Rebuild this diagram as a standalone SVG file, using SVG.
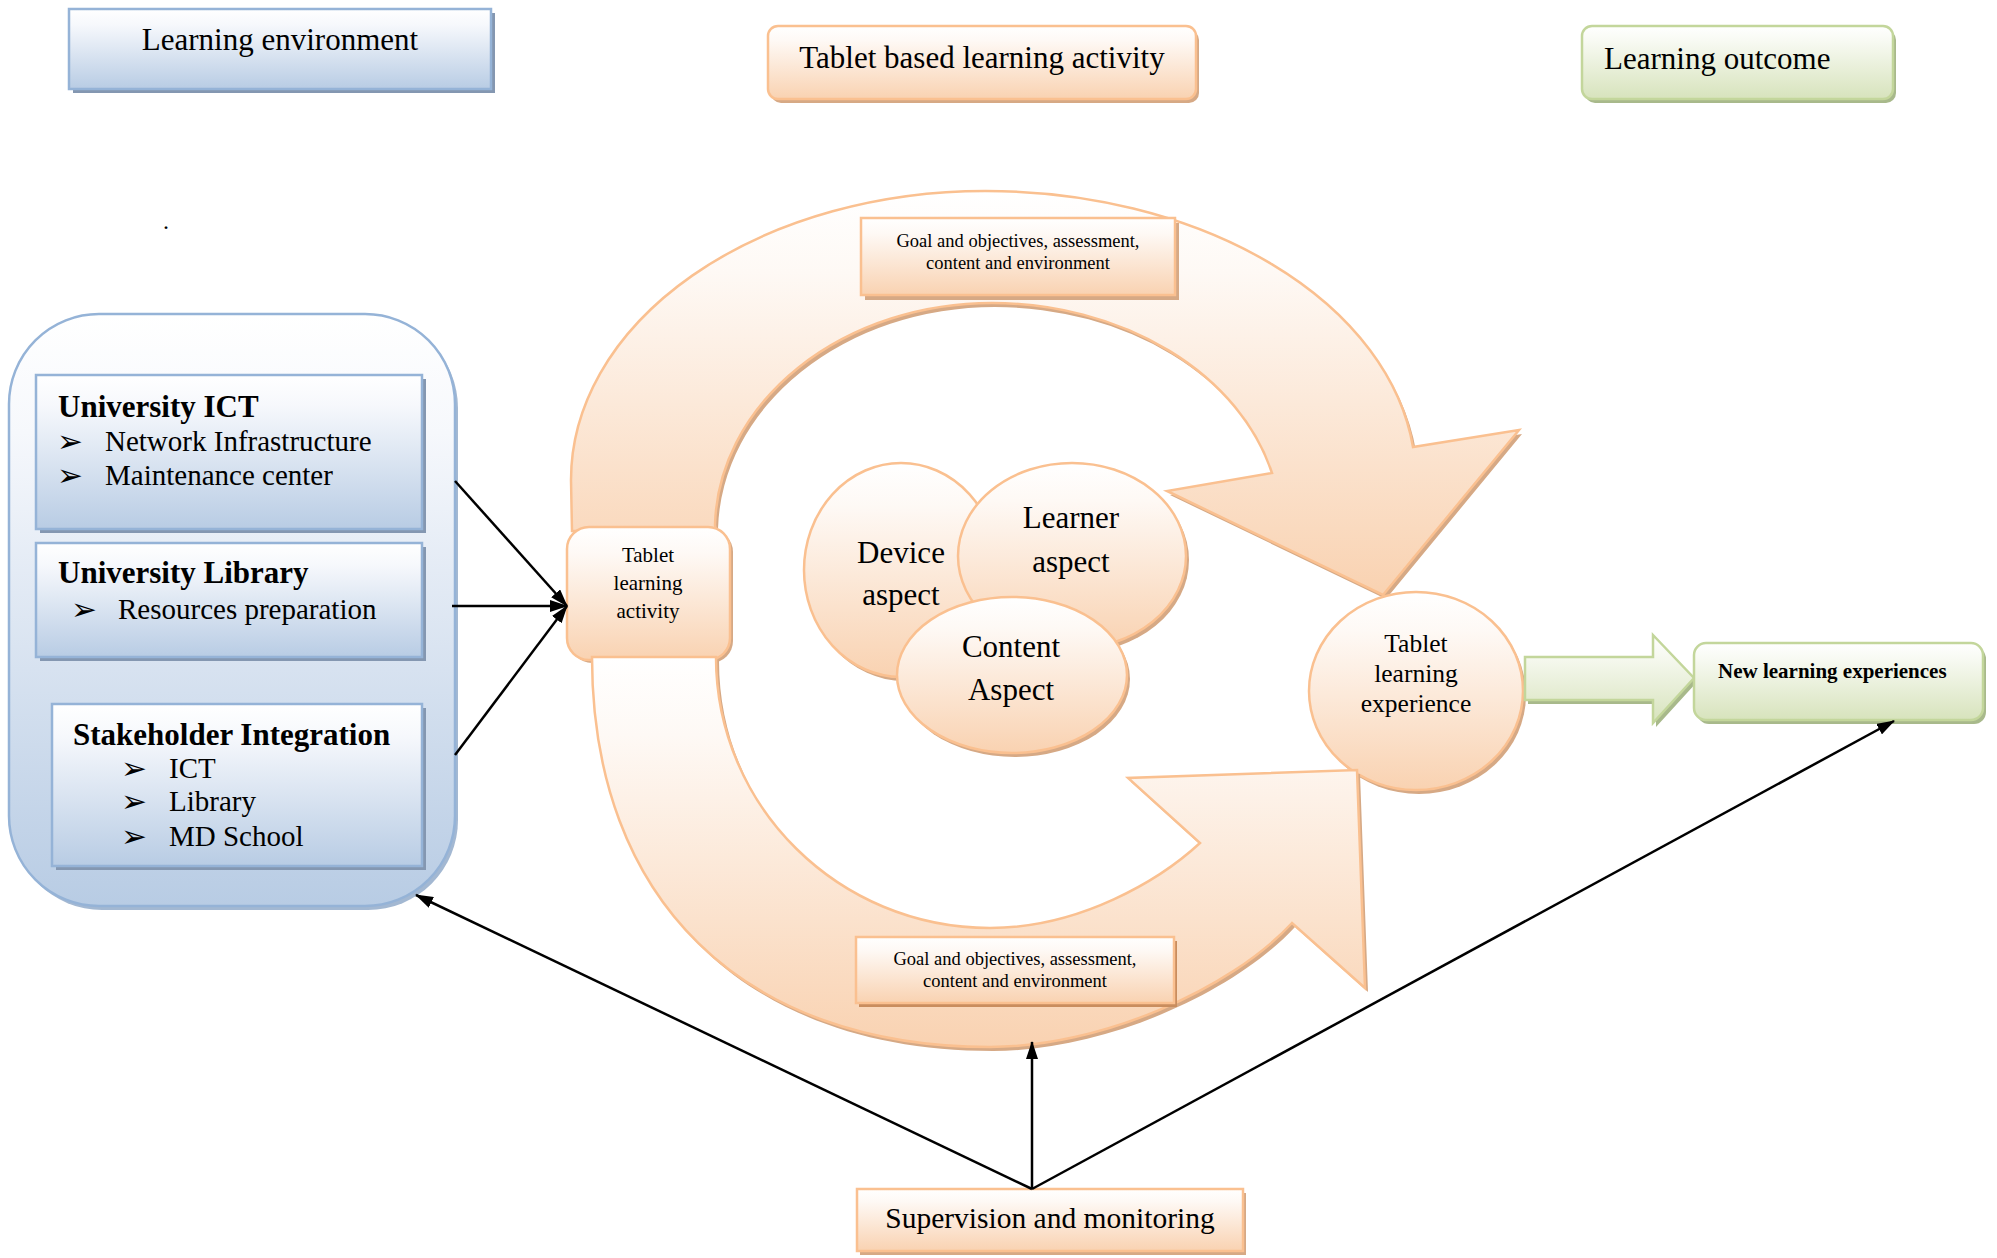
<svg xmlns="http://www.w3.org/2000/svg" width="1997" height="1258" viewBox="0 0 1997 1258">
<defs>
<linearGradient id="gO" x1="0" y1="0" x2="0" y2="1"><stop offset="0" stop-color="#FFFFFF"/><stop offset="0.2" stop-color="#FEF9F5"/><stop offset="1" stop-color="#F9D2B1"/></linearGradient>
<linearGradient id="gB" x1="0" y1="0" x2="0" y2="1"><stop offset="0" stop-color="#FFFFFF"/><stop offset="0.2" stop-color="#F6F8FC"/><stop offset="1" stop-color="#B8CCE4"/></linearGradient>
<linearGradient id="gG" x1="0" y1="0" x2="0" y2="1"><stop offset="0" stop-color="#FFFFFF"/><stop offset="0.2" stop-color="#F8FAF3"/><stop offset="1" stop-color="#D7E3BC"/></linearGradient>
<marker id="ah" viewBox="0 0 18 12" refX="17" refY="6" markerWidth="18" markerHeight="12" markerUnits="userSpaceOnUse" orient="auto"><path d="M0,0 L18,6 L0,12 Z" fill="#000"/></marker>
</defs>
<style>
text { font-family: "Liberation Serif", "Times New Roman", serif; fill: #000; }
.h { font-size: 31px; }
.b { font-weight: bold; }
.li { font-size: 29px; }
.bu { font-family: "DejaVu Sans", sans-serif; font-size: 31px; }
.c { text-anchor: middle; }
.e { font-size: 31px; }
.g { font-size: 18.5px; }
.blue { fill: url(#gB); stroke: #95B3D7; stroke-width: 2.5; }
.org { fill: url(#gO); stroke: #FAC090; stroke-width: 2.5; }
.grn { fill: url(#gG); stroke: #C3D69B; stroke-width: 2.5; }
.sb { fill: #8497B1; }
.so { fill: #D6A985; }
.sg { fill: #A8B98B; }
.conn line { stroke: #000; stroke-width: 2.5; marker-end: url(#ah); }
</style>
<rect width="1997" height="1258" fill="#FFFFFF"/>

<g id="hdr-environment">
<rect class="sb" x="73" y="13" width="422" height="80"/>
<rect class="blue" x="69" y="9" width="422" height="80"/>
<text class="h c" x="280" y="50">Learning environment</text>
</g>

<g id="hdr-activity">
<rect class="so" x="771" y="30" width="428" height="73" rx="10"/>
<rect class="org" x="768" y="26" width="428" height="73" rx="10"/>
<text class="h c" x="982" y="68">Tablet based learning activity</text>
</g>

<g id="hdr-outcome">
<rect class="sg" x="1585" y="30" width="311" height="73" rx="10"/>
<rect class="grn" x="1582" y="26" width="311" height="73" rx="10"/>
<text class="h" x="1604" y="69">Learning outcome</text>
</g>

<text x="163" y="229" font-size="24">.</text>

<g id="env-container">
<rect x="12" y="318" width="446" height="592" rx="90" fill="#A3B8D2"/>
<rect class="blue" x="9" y="314" width="446" height="592" rx="90"/>
</g>

<g id="univ-ict">
<rect class="sb" x="40" y="379" width="386" height="154"/>
<rect class="blue" x="36" y="375" width="386" height="154"/>
<text class="h b" x="58" y="417">University ICT</text>
<text class="bu" x="57" y="452">➢</text>
<text class="li" x="105" y="451">Network Infrastructure</text>
<text class="bu" x="57" y="486">➢</text>
<text class="li" x="105" y="485">Maintenance center</text>
</g>

<g id="univ-library">
<rect class="sb" x="40" y="547" width="386" height="114"/>
<rect class="blue" x="36" y="543" width="386" height="114"/>
<text class="h b" x="58" y="583">University Library</text>
<text class="bu" x="71" y="620">➢</text>
<text class="li" x="118" y="619">Resources preparation</text>
</g>

<g id="stakeholder">
<rect class="sb" x="56" y="708" width="370" height="162"/>
<rect class="blue" x="52" y="704" width="370" height="162"/>
<text class="h b" x="73" y="745">Stakeholder Integration</text>
<text class="bu" x="121" y="779">➢</text>
<text class="li" x="169" y="778">ICT</text>
<text class="bu" x="121" y="812">➢</text>
<text class="li" x="169" y="811">Library</text>
<text class="bu" x="121" y="847">➢</text>
<text class="li" x="169" y="846">MD School</text>
</g>

<g id="cycle-upper-arrow">
<path class="so" transform="translate(3,4)" d="M572 531 L571 480 A414 289 0 0 1 985 191 A430 289 0 0 1 1413 447 L1519 430 L1383 595 L1167 491 L1272 473 A290 227 0 0 0 992 303 A277 227 0 0 0 715 525 L716 531 Z"/>
<path class="org" d="M572 531 L571 480 A414 289 0 0 1 985 191 A430 289 0 0 1 1413 447 L1519 430 L1383 595 L1167 491 L1272 473 A290 227 0 0 0 992 303 A277 227 0 0 0 715 525 L716 531 Z"/>
</g>

<g id="tablet-activity">
<rect class="so" x="570" y="530" width="163" height="133" rx="22"/>
<rect class="org" x="567" y="527" width="163" height="133" rx="22"/>
<text class="c" font-size="21" x="648" y="562">Tablet</text>
<text class="c" font-size="21" x="648" y="590">learning</text>
<text class="c" font-size="21" x="648" y="618">activity</text>
</g>

<g id="tablet-experience">
<ellipse class="so" cx="1419" cy="695" rx="107" ry="99"/>
<ellipse class="org" cx="1416" cy="691" rx="107" ry="99"/>
<text class="c" font-size="25.5" x="1416" y="652">Tablet</text>
<text class="c" font-size="25.5" x="1416" y="682">learning</text>
<text class="c" font-size="25.5" x="1416" y="712">experience</text>
</g>

<g id="cycle-lower-arrow">
<path class="so" transform="translate(3,4)" d="M592 657 C592 900 743 1047 990 1047 C1100 1047 1230 990 1292 923 L1365 988 L1357 770 L1128 778 L1200 843 C1160 880 1080 928 990 928 C839 928 716 807 716 657 Z"/>
<path class="org" d="M592 657 C592 900 743 1047 990 1047 C1100 1047 1230 990 1292 923 L1365 988 L1357 770 L1128 778 L1200 843 C1160 880 1080 928 990 928 C839 928 716 807 716 657 Z"/>
</g>

<g id="goal-upper">
<rect class="so" x="865" y="223" width="314" height="77"/>
<rect class="org" x="861" y="218" width="314" height="77"/>
<text class="g c" x="1018" y="247">Goal and objectives, assessment,</text>
<text class="g c" x="1018" y="269">content and environment</text>
</g>

<g id="goal-lower">
<rect x="859" y="941" width="318" height="66" fill="#C98D5E"/>
<rect class="org" x="856" y="937" width="318" height="66"/>
<text class="g c" x="1015" y="965">Goal and objectives, assessment,</text>
<text class="g c" x="1015" y="987">content and environment</text>
</g>

<g id="device-aspect">
<ellipse class="so" cx="904" cy="574" rx="97" ry="107"/>
<ellipse class="org" cx="901" cy="570" rx="97" ry="107"/>
<text class="e c" x="901" y="563">Device</text>
<text class="e c" x="901" y="605">aspect</text>
</g>

<g id="learner-aspect">
<ellipse class="so" cx="1075" cy="560" rx="114" ry="93"/>
<ellipse class="org" cx="1072" cy="556" rx="114" ry="93"/>
<text class="e c" x="1071" y="528">Learner</text>
<text class="e c" x="1071" y="572">aspect</text>
</g>

<g id="content-aspect">
<ellipse class="so" cx="1015" cy="679" rx="115" ry="78"/>
<ellipse class="org" cx="1012" cy="675" rx="115" ry="78"/>
<text class="e c" x="1011" y="657">Content</text>
<text class="e c" x="1011" y="700">Aspect</text>
</g>

<g id="outcome-arrow">
<path class="sg" transform="translate(3,4)" d="M1525 657 L1653 657 L1653 635 L1694 678 L1653 723 L1653 700 L1525 700 Z"/>
<path class="grn" d="M1525 657 L1653 657 L1653 635 L1694 678 L1653 723 L1653 700 L1525 700 Z"/>
</g>

<g id="new-experiences">
<rect class="sg" x="1697" y="647" width="289" height="77" rx="12"/>
<rect class="grn" x="1694" y="643" width="289" height="77" rx="12"/>
<text class="b" font-size="21" x="1718" y="678">New learning experiences</text>
</g>

<g id="supervision">
<rect class="so" x="860" y="1193" width="386" height="62"/>
<rect class="org" x="857" y="1189" width="386" height="62"/>
<text class="c" font-size="29.5" x="1050" y="1228">Supervision and monitoring</text>
</g>

<g id="connectors" class="conn">
<line x1="455" y1="481" x2="567" y2="606"/>
<line x1="452" y1="606" x2="567" y2="606"/>
<line x1="455" y1="755" x2="567" y2="606"/>
<line x1="1032" y1="1189" x2="416" y2="895"/>
<line x1="1032" y1="1189" x2="1032" y2="1042"/>
<line x1="1032" y1="1189" x2="1894" y2="721"/>
</g>
</svg>
